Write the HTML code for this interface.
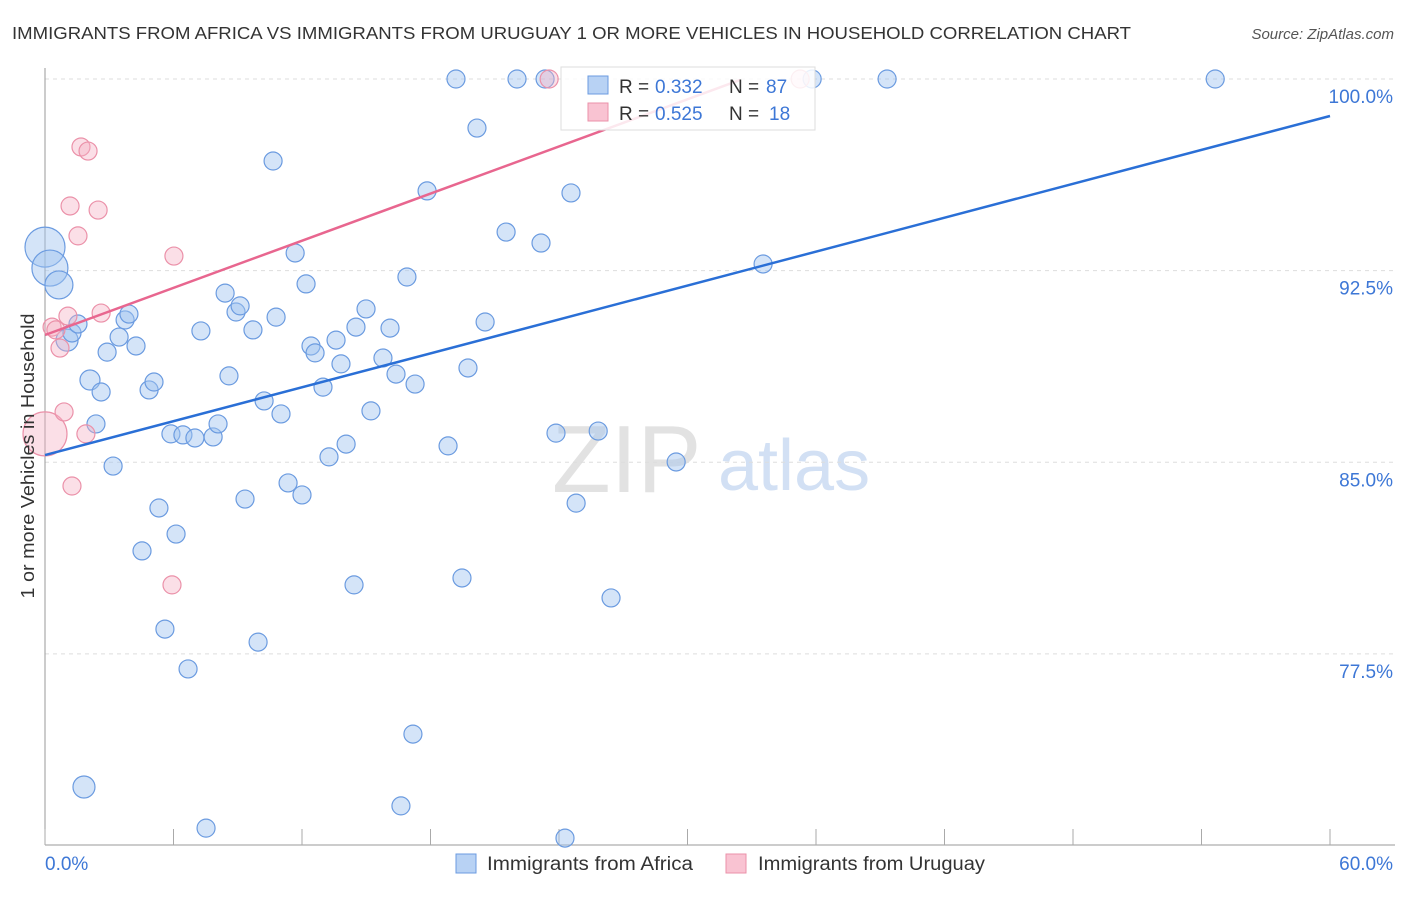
<!DOCTYPE html>
<html><head><meta charset="utf-8"><style>
body{margin:0;background:#fff;font-family:"Liberation Sans",sans-serif;}
svg text{font-family:"Liberation Sans",sans-serif;}
</style></head><body>
<svg id="chart" width="1406" height="892">
<text x="12" y="39" font-size="17.5" fill="#333" textLength="1119" lengthAdjust="spacingAndGlyphs">IMMIGRANTS FROM AFRICA VS IMMIGRANTS FROM URUGUAY 1 OR MORE VEHICLES IN HOUSEHOLD CORRELATION CHART</text>
<text x="1394" y="39" font-size="15" fill="#555" font-style="italic" text-anchor="end">Source: ZipAtlas.com</text>
<g>
<text x="552" y="492" font-size="96" fill="#e2e2e2" font-family="Liberation Serif">ZIP</text>
<text x="718" y="490" font-size="72" fill="#d2e0f4">atlas</text>
</g>
<g id="grid"></g>
<g id="axes"></g>
<g id="points"></g>
<g id="lines"></g>
<text transform="translate(34,456) rotate(-90)" font-size="18" fill="#333" text-anchor="middle" textLength="285" lengthAdjust="spacingAndGlyphs">1 or more Vehicles in Household</text>
<g>
<rect x="561" y="67" width="254" height="63" fill="rgba(255,255,255,0.85)" stroke="#ddd"/>
<rect x="588" y="76" width="20" height="18" fill="#b8d2f4" stroke="#6b9be0"/>
<rect x="588" y="103" width="20" height="18" fill="#f9c3d2" stroke="#eb91a9"/>
<text y="93" font-size="19"><tspan x="619" fill="#333">R = </tspan><tspan x="655" fill="#3d77d6">0.332</tspan><tspan x="729" fill="#333">N = </tspan><tspan x="766" fill="#3d77d6">87</tspan></text>
<text y="120" font-size="19"><tspan x="619" fill="#333">R = </tspan><tspan x="655" fill="#3d77d6">0.525</tspan><tspan x="729" fill="#333">N = </tspan><tspan x="769" fill="#3d77d6">18</tspan></text>
</g>
<g>
<rect x="456" y="854" width="20" height="19" fill="#b8d2f4" stroke="#6b9be0"/>
<text x="487" y="870" font-size="19" fill="#333" textLength="206" lengthAdjust="spacingAndGlyphs">Immigrants from Africa</text>
<rect x="726" y="854" width="20" height="19" fill="#f9c3d2" stroke="#eb91a9"/>
<text x="758" y="870" font-size="19" fill="#333" textLength="227" lengthAdjust="spacingAndGlyphs">Immigrants from Uruguay</text>
</g>
</svg>
<script>
const yTicks=[100,92.5,85,77.5];
const yTickLabels=["100.0%","92.5%","85.0%","77.5%"];
const xTickLabels=["0.0%","60.0%"];
const africaX=[0,.23,.65,1.03,1.26,1.54,2.10,2.62,2.38,2.90,3.18,3.46,3.74,3.92,4.25,4.86,5.09,4.53,5.32,5.60,5.88,6.12,6.44,6.68,7.00,7.28,7.52,7.85,8.08,8.41,8.59,8.92,9.11,9.34,9.71,9.95,10.23,10.65,10.79,11.02,11.35,11.68,12.00,12.19,12.42,12.61,12.98,13.26,13.59,13.82,14.06,14.43,14.52,14.99,15.22,15.78,16.11,16.39,16.62,16.90,17.18,17.28,17.84,18.82,19.19,19.47,19.75,20.17,20.55,21.53,22.04,23.16,23.35,23.86,24.28,24.56,24.80,25.83,26.43,29.47,33.53,35.82,39.32,54.64,1.82];
const africaY=[93.42,92.60,91.94,89.78,90.06,90.41,88.22,87.75,86.50,89.31,84.85,89.90,90.57,90.80,89.55,87.83,88.14,81.53,83.21,78.47,86.11,82.19,86.07,76.91,85.95,90.14,70.68,85.99,86.50,91.62,88.38,90.88,91.12,83.56,90.18,77.96,87.40,96.79,90.68,86.89,84.19,93.19,83.72,91.98,89.55,89.28,87.94,85.21,89.78,88.85,85.71,80.20,90.29,91.00,87.01,89.08,90.25,88.45,71.55,92.25,74.36,88.06,95.62,85.64,100,80.47,88.69,98.08,90.49,94.01,100,93.58,100,86.14,70.29,95.54,83.40,86.22,79.69,85.01,92.76,100,100,100,72.29];
const africaSize=[20,18,14,11,9,9,10,9,9,9,9,9,9,9,9,9,9,9,9,9,9,9,9,9,9,9,9,9,9,9,9,9,9,9,9,9,9,9,9,9,9,9,9,9,9,9,9,9,9,9,9,9,9,9,9,9,9,9,9,9,9,9,9,9,9,9,9,9,9,9,9,9,9,9,9,9,9,9,9,9,9,9,9,9,11];
const uruguayX=[0,.33,.51,.70,.89,1.07,1.26,1.17,1.54,1.68,1.91,2.01,2.48,2.62,5.93,6.02,23.54,35.26];
const uruguayY=[86.11,90.29,90.18,89.47,86.97,90.72,84.07,95.03,93.86,97.34,86.11,97.18,94.87,90.84,80.20,93.07,100,100];
const uruguaySize=[22,9,9,9,9,9,9,9,9,9,9,9,9,9,9,9,9,9];
const africaFit=[85.28,0.2212];
const uruguayFit=[89.98,0.3075];
const NS="http://www.w3.org/2000/svg";
const sx=v=>45+v/60*1285;
const sy=v=>79+(100-v)*25.55;
function mk(tag,attrs,parent){const e=document.createElementNS(NS,tag);for(const k in attrs)e.setAttribute(k,attrs[k]);document.getElementById(parent).appendChild(e);return e;}
yTicks.forEach((t,i)=>{
 const g=mk('line',{x1:45,x2:1395,y1:sy(t),y2:sy(t),stroke:'#ddd','stroke-dasharray':'4,4'},'grid');
 
 
 const l=mk('text',{x:1393,y:sy(t)+24,'font-size':19,fill:'#3d77d6','text-anchor':'end'},'axes');
 l.textContent=yTickLabels[i];
 
 
});
const ya=mk('line',{x1:45,x2:45,y1:68,y2:845,stroke:'#999'},'axes');


const xa=mk('line',{x1:45,x2:1395,y1:845,y2:845,stroke:'#999'},'axes');


for(let i=0;i<=10;i++){
 const t=mk('line',{x1:sx(i*6),x2:sx(i*6),y1:829,y2:845,stroke:'#aaa'},'axes');
 
 
}
[[0,'start',45],[60,'end',1393]].forEach((d,i)=>{
 const l=mk('text',{x:d[2],y:870,'font-size':19,fill:'#3d77d6','text-anchor':d[1]},'axes');
 l.textContent=xTickLabels[i];
 
 
});
function pts(X,Y,S,fill,stroke,name){
 X.forEach((x,i)=>{
  const c=mk('circle',{cx:sx(x),cy:sy(Y[i]),r:S[i],fill:fill,stroke:stroke,'stroke-width':1.2},'points');
  
  
 });
}
pts(africaX,africaY,africaSize,'rgba(160,195,240,0.45)','#6b9be0','africa-point');
pts(uruguayX,uruguayY,uruguaySize,'rgba(245,175,195,0.4)','#eb91a9','uruguay-point');
const bl=mk('line',{x1:sx(0),y1:sy(africaFit[0]),x2:sx(60),y2:sy(africaFit[0]+africaFit[1]*60),stroke:'#2a6fd6','stroke-width':2.5},'lines');


const xe=32.46;
const pl=mk('line',{x1:sx(0),y1:sy(uruguayFit[0]),x2:sx(xe),y2:sy(uruguayFit[0]+uruguayFit[1]*xe),stroke:'#e8668f','stroke-width':2.5},'lines');


</script>
</body></html>
